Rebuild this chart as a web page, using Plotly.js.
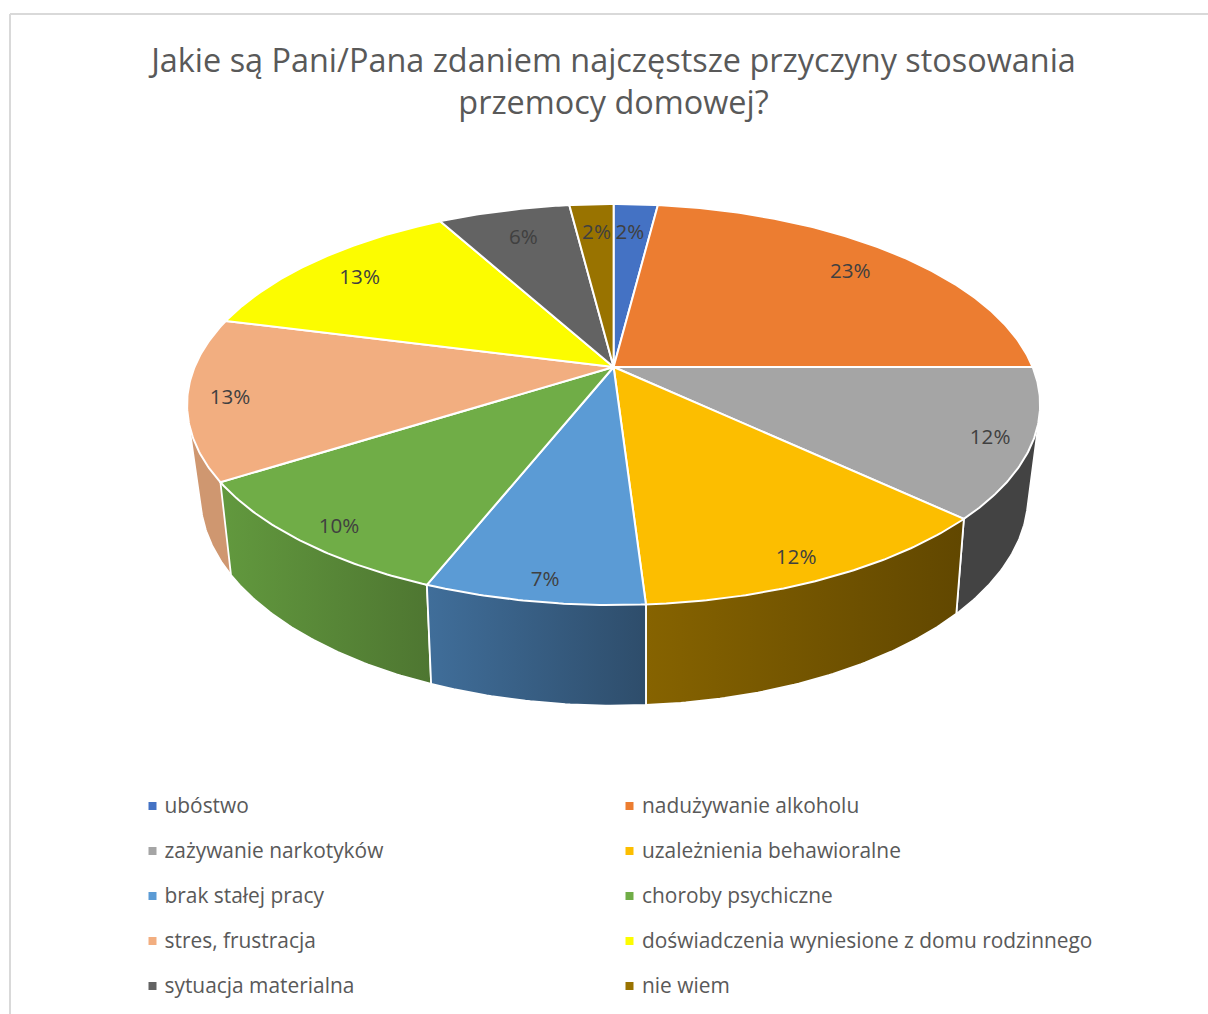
<!DOCTYPE html>
<html>
<head>
<meta charset="utf-8">
<script src="https://cdn.plot.ly/plotly-3.0.0.min.js"></script>
<style>html,body{margin:0;padding:0;background:#fff}#chart{width:1208px;height:1014px}</style>
</head>
<body>
<div id="chart"></div>
<script>
// --- data ---
const categories = ['ubóstwo','nadużywanie alkoholu','zażywanie narkotyków','uzależnienia behawioralne','brak stałej pracy','choroby psychiczne','stres, frustracja','doświadczenia wyniesione z domu rodzinnego','sytuacja materialna','nie wiem'];
const percents = [2,23,12,12,7,10,13,13,6,2];
const chartTitle = 'Jakie są Pani/Pana zdaniem najczęstsze przyczyny stosowania<br>przemocy domowej?';

// --- styles ---
const faceColors = ['#4472C4','#EC7D31','#A5A5A5','#FCBE00','#5B9BD5','#70AD47','#F2AE80','#FCFC00','#636363','#997300'];
const wallColors = [null,null,['#434343','#434343'],['#866300','#614700'],['#406E9A','#2E4D6B'],['#62993E','#4E7631'],['#CF9770','#CF9770'],null,null,null];
const labelReach = [[.73,.83],[.846,.847],[.90,.915],[.85,.90],[.85,.905],[.88,.91],[.90,.96],[.855,.85],[.82,.83],[.77,.83]];
const FONT = '"Open Sans", "Noto Sans", sans-serif';

// --- perspective model of the tilted disc (pixel-mapped axes) ---
const top_ = {cx:613.6, cy:367, R:419, S:193.5, k:0.187};
const bot_ = {cx:614.2, cy:454.1, R:405.7, S:201.7, k:0.198};
function project(p, theta){
  const u = Math.sin(theta), v = Math.cos(theta), w = 1 + p.k*v;
  return [p.cx + p.R*u/w, p.cy - p.S*v/w];
}
function arc(p, a, b){
  const n = Math.max(2, Math.ceil(Math.abs(b-a)/0.01)), out = [];
  for(let i=0;i<=n;i++) out.push(project(p, a+(b-a)*i/n));
  return out;
}
function hull(points){
  const pts = points.slice().sort((a,b)=>a[0]-b[0]||a[1]-b[1]);
  const cross=(o,a,b)=>(a[0]-o[0])*(b[1]-o[1])-(a[1]-o[1])*(b[0]-o[0]);
  const lo=[],up=[];
  for(const p of pts){while(lo.length>1&&cross(lo[lo.length-2],lo[lo.length-1],p)<=0)lo.pop();lo.push(p);}
  for(const p of pts.slice().reverse()){while(up.length>1&&cross(up[up.length-2],up[up.length-1],p)<=0)up.pop();up.push(p);}
  return lo.slice(0,-1).concat(up.slice(0,-1));
}
const total = percents.reduce((a,b)=>a+b,0);
const bounds = [0];
percents.forEach(v=>bounds.push(bounds[bounds.length-1]+v/total*2*Math.PI));

const traces = [];
const base = {type:'scatter', mode:'lines', fill:'toself', hoverinfo:'skip', showlegend:false};

// side walls, furthest from the viewer first
percents.map((v,i)=>i)
  .filter(i=>wallColors[i])
  .sort((p,q)=>Math.abs((bounds[q]+bounds[q+1])/2-Math.PI)-Math.abs((bounds[p]+bounds[p+1])/2-Math.PI))
  .forEach(i=>{
    const a=bounds[i], b=bounds[i+1];
    const vis = Math.min(b, 1.62*Math.PI);
    const h = hull(arc(top_,a,vis).concat(arc(bot_,a,vis)));
    h.push(h[0]);
    traces.push(Object.assign({},base,{
      x:h.map(p=>p[0]), y:h.map(p=>p[1]),
      line:{color:'#ffffff',width:1.8},
      fillcolor:wallColors[i][0],
      fillgradient:{type:'horizontal',colorscale:[[0,wallColors[i][0]],[1,wallColors[i][1]]]}
    }));
  });
// top faces
percents.forEach((v,i)=>{
  const pts=[[top_.cx,top_.cy]].concat(arc(top_,bounds[i],bounds[i+1]));
  pts.push(pts[0]);
  traces.push(Object.assign({},base,{
    name:categories[i], x:pts.map(p=>p[0]), y:pts.map(p=>p[1]),
    line:{color:'#ffffff',width:2}, fillcolor:faceColors[i]
  }));
});
// percent labels
const mids = percents.map((v,i)=>project(top_,(bounds[i]+bounds[i+1])/2));
traces.push({type:'scatter',mode:'text',hoverinfo:'skip',showlegend:false,
  x:mids.map((m,i)=>top_.cx+(m[0]-top_.cx)*labelReach[i][0]),
  y:mids.map((m,i)=>top_.cy+(m[1]-top_.cy)*labelReach[i][1]+2),
  text:percents.map(v=>v+'%'), textposition:'middle center',
  textfont:{family:FONT,size:20.6,color:'#404040'}, cliponaxis:false});
// legend grid
const markerCols=[152.5,629.5], textCols=[164.5,642], legendTop=806, legendStep=45;
const ly=categories.map((c,i)=>legendTop+legendStep*Math.floor(i/2));
traces.push({type:'scatter',mode:'markers',hoverinfo:'skip',showlegend:false,
  x:categories.map((c,i)=>markerCols[i%2]),y:ly,
  marker:{symbol:'square',size:8,color:faceColors}, cliponaxis:false});
traces.push({type:'scatter',mode:'text',hoverinfo:'skip',showlegend:false,
  x:categories.map((c,i)=>textCols[i%2]),y:ly.map(v=>v+2),text:categories,textposition:'middle right',
  textfont:{family:FONT,size:20.9,color:'#595959'}, cliponaxis:false});

const layout={
  width:1208,height:1014,margin:{l:0,r:0,t:0,b:0},
  paper_bgcolor:'#ffffff',plot_bgcolor:'#ffffff',showlegend:false,
  title:{text:chartTitle,x:613.5/1208,xanchor:'center',y:1-72/1014,yanchor:'middle',
    font:{family:FONT,size:32.4,color:'#595959'}},
  xaxis:{range:[0,1208],visible:false,fixedrange:true},
  yaxis:{range:[1014,0],visible:false,fixedrange:true},
  shapes:[{type:'line',xref:'x',yref:'y',x0:10,y0:1014,x1:10,y1:14,line:{color:'#d9d9d9',width:2}},
          {type:'line',xref:'x',yref:'y',x0:10,y0:14,x1:1208,y1:14,line:{color:'#d9d9d9',width:2}}]
};
Plotly.newPlot('chart',traces,layout,{displayModeBar:false,staticPlot:true});
</script>
</body>
</html>
